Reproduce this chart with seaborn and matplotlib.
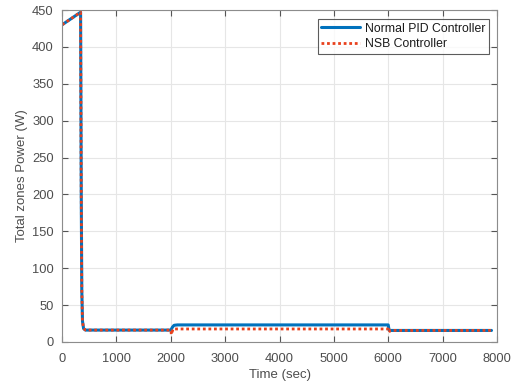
import matplotlib
matplotlib.use("Agg")
import matplotlib.pyplot as plt
import seaborn as sns
import pandas as pd

# Data
pid_time = [0, 340, 352, 362, 375, 395, 430, 2000, 2030, 2060, 2120, 6000, 6015, 6050, 7900]
pid_power = [430, 447, 200, 70, 28, 18, 16, 16, 20, 22.5, 23, 23, 16, 15.5, 15.5]
nsb_time = [0, 340, 352, 362, 375, 395, 430, 2000, 2010, 2040, 6000, 6010, 6040, 7900]
nsb_power = [430, 447, 200, 70, 28, 18, 16, 16, 10, 17.5, 17.5, 13, 15.5, 15.5]

series_names = ["Normal PID Controller", "NSB Controller"]
x_ticks = [0, 1000, 2000, 3000, 4000, 5000, 6000, 7000, 8000]
y_ticks = [0, 50, 100, 150, 200, 250, 300, 350, 400, 450]

sns.set_style("white")
plt.rcParams['font.family'] = ['Liberation Sans', 'DejaVu Sans']

df_pid = pd.DataFrame({"t": pid_time, "p": pid_power})
df_nsb = pd.DataFrame({"t": nsb_time, "p": nsb_power})

fig = plt.figure(figsize=(5.22, 3.85), dpi=100)
ax = fig.add_axes([0.119, 0.112, 0.833, 0.862])

sns.lineplot(data=df_pid, x="t", y="p", ax=ax, color="#0072BD", linewidth=2.2,
             label=series_names[0], sort=False, estimator=None)
sns.lineplot(data=df_nsb, x="t", y="p", ax=ax, color="#E8401C", linewidth=2.0,
             linestyle=(0, (1, 1)), label=series_names[1], sort=False, estimator=None)

ax.set_xlim(0, 8000)
ax.set_ylim(0, 450)
ax.set_xticks(x_ticks)
ax.set_yticks(y_ticks)
ax.grid(True, color="#e6e6e6", linewidth=0.8)
ax.set_axisbelow(True)
for s in ax.spines.values():
    s.set_color("#8c8c8c")
    s.set_linewidth(0.8)
ax.tick_params(direction="in", length=4, width=0.8, color="#555555",
               labelcolor="#4d4d4d", labelsize=9.3, top=True, right=True,
               bottom=True, left=True)
ax.tick_params(axis="x", pad=8)
ax.tick_params(axis="y", pad=6)
ax.set_xlabel("Time (sec)", fontsize=9.5, color="#4d4d4d", labelpad=3)
ax.set_ylabel("Total zones Power (W)", fontsize=9.5, color="#4d4d4d", labelpad=3)

leg = ax.legend(loc="upper right", fontsize=8.8, frameon=True, fancybox=False,
                handlelength=3.2, borderpad=0.3, labelspacing=0.3,
                borderaxespad=0.6, handletextpad=0.35,
                bbox_to_anchor=(0.998, 0.995))
leg.get_frame().set_edgecolor("#333333")
leg.get_frame().set_linewidth(0.8)
for t in leg.get_texts():
    t.set_color("#1a1a1a")

fig.savefig("out.png", dpi=100)
